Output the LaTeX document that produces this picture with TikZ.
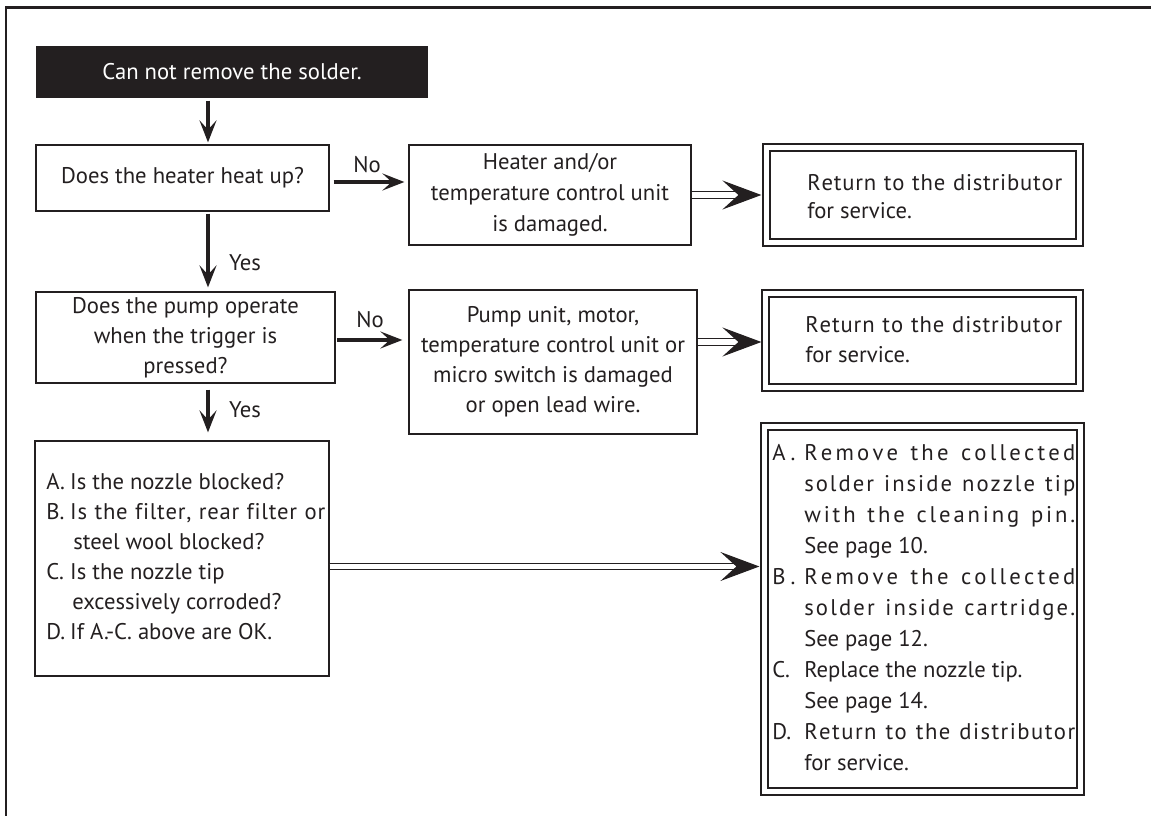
\documentclass[tikz,border=0pt]{standalone}
\usepackage{fontspec}
\setmainfont{PT Sans}
\usetikzlibrary{arrows.meta,calc}
\newlength\px \setlength\px{0.75pt}
\definecolor{ink}{HTML}{231F20}
\newcommand\fsa{\fontsize{17}{22.5}\selectfont}
\newcommand\fsb{\fontsize{17}{23.25}\selectfont}
\newcommand\fsc{\fontsize{17}{20.5}\selectfont}
\ExplSyntaxOn
\NewDocumentCommand\jl{mm}{\makebox[#1\px][s]{\str_map_inline:nn{#2}{##1\hfil}\unskip}}
\ExplSyntaxOff
\begin{document}
\begin{tikzpicture}[x=0.75pt,y=-0.75pt,
  box/.style={draw=ink, line width=0.9pt, inner sep=0pt, align=center, text=ink, font=\fsa},
  dbox/.style={draw=ink, line width=0.9pt, double=white, double distance=4.4pt, inner sep=0pt},
  txt/.style={inner sep=0pt, text=ink, font=\fsa},
  sarrow/.style={draw=ink, line width=2.6pt, -{Stealth[length=16.5pt, width=12.75pt, inset=7pt]}},
  dline/.style={draw=ink, line width=0.9pt, double=white, double distance=3.9pt},
  dtip/.style={draw=ink, line width=0.9pt, -{Stealth[length=29.25pt, width=21.75pt, inset=12pt]}}
]
\useasboundingbox (0,0) rectangle (1151,816);
% outer frame
\draw[ink, line width=1.7pt] (6,816) -- (6,7.5) -- (1151,7.5);

% nodes
\node[box, draw=none, fill=ink, text=white, minimum width=392\px, minimum height=52\px] (title) at (232,72) {Can not remove the solder.};
\node[box, minimum width=293\px, minimum height=66\px] (b1) at (182.5,178) {Does the heater heat up?};
\node[box, minimum width=299\px, minimum height=91\px] (b2) at (185.5,337.5) {Does the pump operate\\when the trigger is\\pressed?};
\node[box, minimum width=294\px, minimum height=235\px] (b3) at (182,558.5) {};
\node[box, font=\fsb, minimum width=282\px, minimum height=100\px] (h1) at (550,195) {Heater and/or\\temperature control unit\\is damaged.};
\node[box, minimum width=288\px, minimum height=144\px] (h2) at (553,362) {Pump unit, motor,\\temperature control unit or\\micro switch is damaged\\or open lead wire.};
\node[dbox, minimum width=313\px, minimum height=95\px] (r1) at (923,195) {};
\node[dbox, minimum width=314\px, minimum height=94\px] (r2) at (922.5,340.5) {};
\node[dbox, minimum width=316\px, minimum height=365\px] (r3) at (922.5,609) {};

% texts
\node[txt, font=\fsc, anchor=west, align=left] (r1t) at (807,196.5) {\jl{255}{Return to the distributor}\\for service.};
\node[txt, anchor=west, align=left] (r2t) at (805,340) {\jl{257}{Return to the distributor}\\for service.};
\node[txt, anchor=west] (b3t) at (46,558) {\begin{tabular}{@{}l@{}}
\makebox[24\px][l]{A.}Is the nozzle blocked?\\
\makebox[24\px][l]{B.}\jl{255}{Is the filter, rear filter or}\\
\hspace*{27\px}steel wool blocked?\\
\makebox[24\px][l]{C.}Is the nozzle tip\\
\hspace*{26\px}excessively corroded?\\
\makebox[24\px][l]{D.}If A.-C. above are OK.
\end{tabular}};
\node[txt, font=\fsb, anchor=west] (r3t) at (772,609) {\begin{tabular}{@{}l@{}l@{}}
\makebox[32\px][l]{A\hspace{5\px}.} & \jl{271}{Remove the collected}\\
 & \jl{271}{solder inside nozzle tip}\\
 & \jl{271}{with the cleaning pin.}\\
 & See page 10.\\
\makebox[32\px][l]{B\hspace{5\px}.} & \jl{271}{Remove the collected}\\
 & \jl{271}{solder inside cartridge.}\\
 & See page 12.\\
\makebox[32\px][l]{C.} & Replace the nozzle tip.\\
 & See page 14.\\
\makebox[32\px][l]{D.} & \jl{271}{Return to the distributor}\\
 & for service.
\end{tabular}};

\node[txt] (no1) at (367,165) {No};
\node[txt] (no2) at (370,320) {No};
\node[txt] (yes1) at (245,263) {Yes};
\node[txt] (yes2) at (245,410) {Yes};

% helper coordinates
\coordinate (ax) at (208,0);
\coordinate (y1) at (0,182);
\coordinate (y2) at (0,340);
\coordinate (y3) at (0,342);
\coordinate (y4) at (0,566.5);

% single arrows
\draw[sarrow, shorten <=1.5pt, shorten >=1.5pt] (title.south -| ax) -- (b1.north -| ax);
\draw[sarrow, shorten <=1.5pt, shorten >=3pt] (b1.south -| ax) -- (b2.north -| ax);
\draw[sarrow, shorten <=4.5pt, shorten >=6pt] (b2.south -| ax) -- (b3.north -| ax);
\draw[sarrow, shorten <=3pt, shorten >=3pt] (b1.east |- y1) -- (h1.west |- y1);
\draw[sarrow, shorten <=1pt, shorten >=4.5pt] (b2.east |- y2) -- (h2.west |- y2);

% double arrows
\draw[dline, shorten >=18pt] (h1.east) -- (r1.west);
\draw[dtip] ($(r1.west)+(-25,0)$) -- ($(r1.west)+(-4.5,0)$);
\draw[dline, shorten >=17pt] (h2.east |- y3) -- (r2.west |- y3);
\draw[dtip] ($(r2.west |- y3)+(-24,0)$) -- ($(r2.west |- y3)+(-3.5,0)$);
\draw[dline, shorten >=18pt] (b3.east |- y4) -- (r3.west |- y4);
\draw[dtip] ($(r3.west |- y4)+(-25,0)$) -- ($(r3.west |- y4)+(-4.5,0)$);
\end{tikzpicture}
\end{document}
